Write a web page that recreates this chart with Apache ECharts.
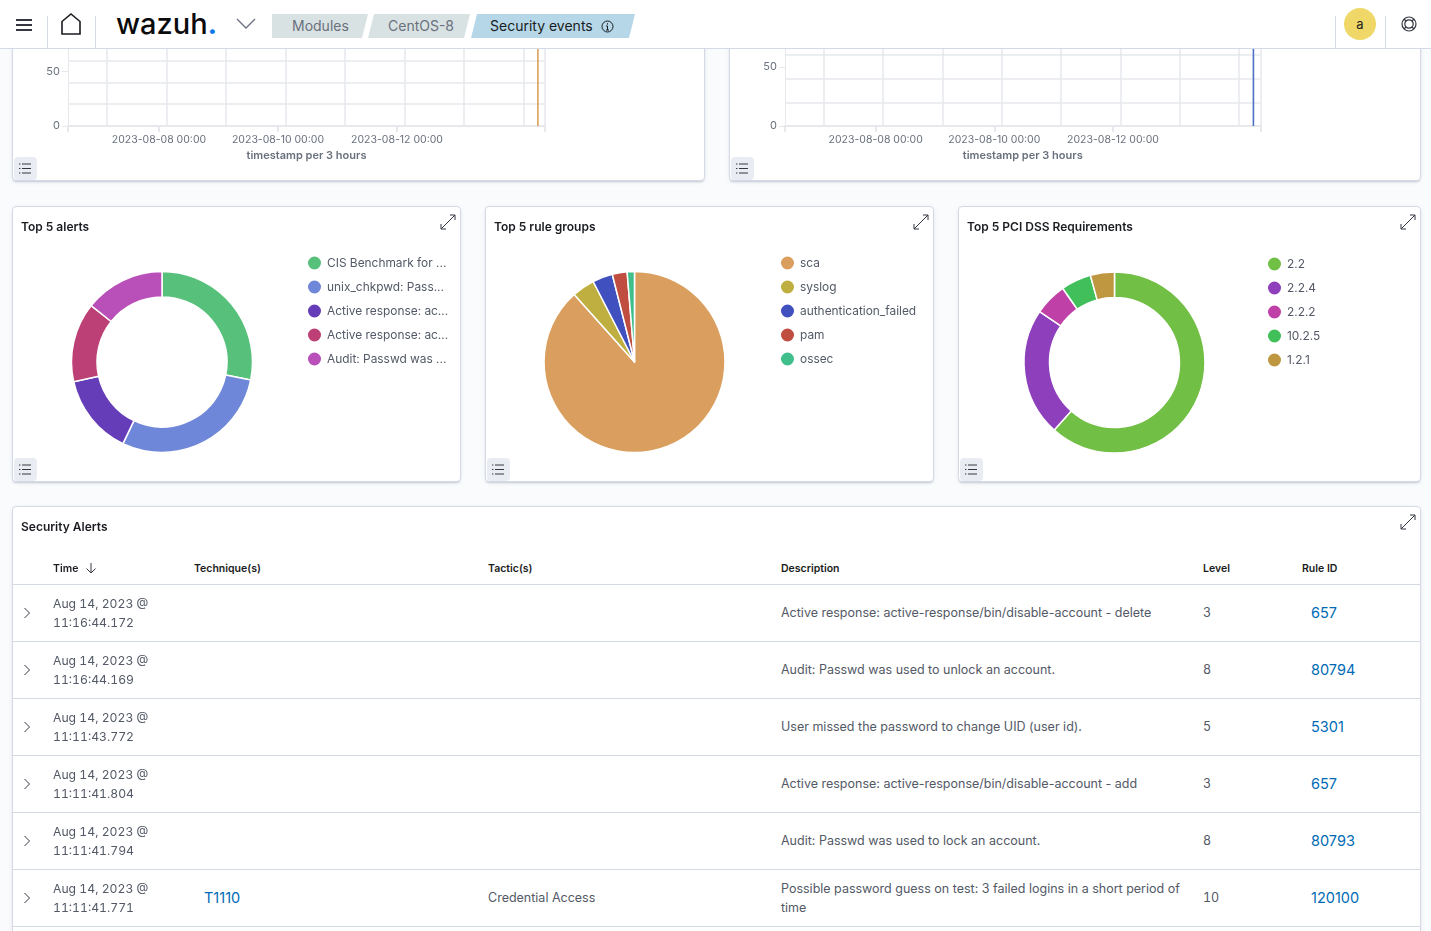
<!DOCTYPE html>
<html>
<head>
<meta charset="utf-8">
<title>Security events</title>
<script src="https://cdn.jsdelivr.net/npm/echarts@6/dist/echarts.min.js"></script>
<style>
html,body{margin:0;padding:0;width:1431px;height:931px;overflow:hidden;background:#fafbfd;font-family:Inter,sans-serif;color:#343741}
div{box-sizing:border-box}
.abs,.panel,.chart,.t{position:absolute}
.panel{background:#fff;border:1px solid #d3dae6;border-radius:4px;box-shadow:0 2px 2px -1px rgba(152,162,179,.45),0 1px 5px -2px rgba(152,162,179,.45)}
.chart{left:0;top:0}
.title{position:absolute;font-size:12px;font-weight:600;color:#1a1c21;white-space:nowrap}
.btn{position:absolute;width:23px;height:23px;background:#e9edf3;border-radius:4px}
.header{position:absolute;left:0;top:0;width:1431px;height:49px;background:#fff;border-bottom:1px solid #d3dae6;z-index:10}
.vline{position:absolute;top:16px;width:1px;height:32px;background:#d3dae6}
.crumb{position:absolute;top:14px;height:24px;line-height:23px;font-size:14px;white-space:nowrap}
.t{white-space:nowrap;font-size:12.5px;color:#535966}
.num{font-variant-numeric:tabular-nums}
.th{position:absolute;top:562px;font-size:10.5px;font-weight:600;color:#1a1c21;white-space:nowrap}
.rowline{position:absolute;left:13px;width:1407px;height:1px;background:#d3dae6}
.link{color:#006bb4;font-size:14.5px}
</style>
</head>
<body>

<div class="header">
  <svg class="abs" style="left:16px;top:18px" width="17" height="14"><path d="M0 2h16M0 7h16M0 12h16" stroke="#343741" stroke-width="2"/></svg>
  <div class="vline" style="left:47px"></div>
  <svg class="abs" style="left:60px;top:12px" width="22" height="24"><path d="M2 22V9.5L11 2l9 7.5V22z" fill="none" stroke="#1a1c21" stroke-width="1.6"/></svg>
  <div class="vline" style="left:95px"></div>
  <div class="abs" style="left:116px;top:6px;font-size:29px;line-height:36px;font-weight:500;color:#0b0b0d;white-space:nowrap">wazuh<span style="color:#0a79f0;font-weight:700">.</span></div>
  <svg class="abs" style="left:236px;top:18px" width="20" height="12"><path d="M1 1l9 9 9-9" fill="none" stroke="#69707d" stroke-width="1.3"/></svg>
  <div class="crumb" style="left:272px;width:96px;background:#d9e2e3;color:#69707d;padding-left:20px;clip-path:polygon(0 0,100% 0,calc(100% - 6px) 100%,0 100%)">Modules</div>
  <div class="crumb" style="left:368px;width:102px;background:#d9e2e3;color:#69707d;padding-left:20px;clip-path:polygon(6px 0,100% 0,calc(100% - 6px) 100%,0 100%)">CentOS-8</div>
  <div class="crumb" style="left:471px;width:164px;background:#b6d7e8;color:#1a1c21;padding-left:19px;clip-path:polygon(6px 0,100% 0,calc(100% - 6px) 100%,0 100%)">Security events
    <svg style="position:absolute;left:130px;top:6px" width="13" height="13"><circle cx="6.5" cy="6.5" r="5.5" fill="none" stroke="#1a1c21"/><path d="M6.5 6v4M6.5 3.2v1.4M5 6h1.5M5 10h3" stroke="#1a1c21" fill="none"/></svg>
  </div>
  <div class="vline" style="left:1335px"></div>
  <div class="abs" style="left:1344px;top:8px;width:32px;height:32px;border-radius:50%;background:#f0d868;text-align:center;line-height:33px;font-size:13px;color:#1a1c21">a</div>
  <div class="vline" style="left:1385px"></div>
  <svg class="abs" style="left:1401px;top:16px" width="16" height="16"><circle cx="8" cy="8" r="7" fill="none" stroke="#343741" stroke-width="1.2"/><circle cx="8" cy="8" r="4.2" fill="none" stroke="#343741" stroke-width="1.2"/><path d="M3 3l2 2M13 3l-2 2M3 13l2-2M13 13l-2-2" stroke="#343741" stroke-width="1.2"/></svg>
</div>

<div id="rootPanels"></div>
<div id="tableArea"></div>

<script>
// top histograms (only the bottom of them is visible, the page is scrolled)
var histTimes = ['2023-08-14T08:50:00Z'];
var histCountsLeft = [100];
var histCountsRight = [100];
var histGridTimes = ['2023-08-07T03:00:00Z', '2023-08-08T03:00:00Z', '2023-08-09T03:00:00Z', '2023-08-10T03:00:00Z', '2023-08-11T03:00:00Z', '2023-08-12T03:00:00Z', '2023-08-13T03:00:00Z', '2023-08-14T03:00:00Z'];
var histGridCounts = [20, 40, 60, 80, 100];
var histTickTimes = ['2023-08-08T00:00:00Z', '2023-08-10T00:00:00Z', '2023-08-12T00:00:00Z'];

// pies
var alertNames = [
    'CIS Benchmark for CentOS Linux 8',
    'unix_chkpwd: Password check failed.',
    'Active response: active-response/bin/disable-account - delete',
    'Active response: active-response/bin/disable-account - add',
    'Audit: Passwd was used to unlock an account.'
];
var alertLabels = ['CIS Benchmark for ...', 'unix_chkpwd: Pass...', 'Active response: ac...', 'Active response: ac...', 'Audit: Passwd was ...'];
var alertValues = [28.2, 28.9, 14.4, 14.2, 14.3];
var alertColors = ['#57c17b', '#6f87d8', '#663db8', '#bc3f75', '#b94fb9'];

var groupNames = ['sca', 'syslog', 'authentication_failed', 'pam', 'ossec'];
var groupValues = [88.4, 4.05, 3.6, 2.65, 1.3];
var groupColors = ['#da9f5e', '#bfaf40', '#4050bf', '#bf4d40', '#40bf8c'];

var pciNames = ['2.2', '2.2.4', '2.2.2', '10.2.5', '1.2.1'];
var pciValues = [61.6, 22.9, 5.8, 5.4, 4.3];
var pciColors = ['#71bf44', '#8d3fbc', '#bf40a6', '#40bf5a', '#bf9740'];

// table
var tableColumns = ['Technique(s)', 'Tactic(s)', 'Description', 'Level', 'Rule ID'];
var rowDates = ['11:16:44.172', '11:16:44.169', '11:11:43.772', '11:11:41.804', '11:11:41.794', '11:11:41.771'];
var rowTechniques = ['', '', '', '', '', 'T1110'];
var rowTactics = ['', '', '', '', '', 'Credential Access'];
var rowDescriptions = [
    'Active response: active-response/bin/disable-account - delete',
    'Audit: Passwd was used to unlock an account.',
    'User missed the password to change UID (user id).',
    'Active response: active-response/bin/disable-account - add',
    'Audit: Passwd was used to lock an account.',
    'Possible password guess on test: 3 failed logins in a short period of<br>time'
];
var rowLevels = [3, 8, 5, 3, 8, 10];
var rowRuleIds = ['657', '80794', '5301', '657', '80793', '120100'];

var rootPanels = document.getElementById('rootPanels');
var tableArea = document.getElementById('tableArea');

function ms(s) {
    return Date.parse(s);
}

function fmtDate(v) {
    var iso = new Date(v).toISOString();
    return iso.slice(0, 10) + ' ' + iso.slice(11, 16);
}

function addPanel(x, y, w, h, title) {
    var p = document.createElement('div');
    p.className = 'panel';
    p.style.cssText = 'left:' + x + 'px;top:' + y + 'px;width:' + w + 'px;height:' + h + 'px';
    var html = '';
    if (title) {
        html += '<div class="title" style="left:8px;top:12px">' + title + '</div>';
        html += '<svg style="position:absolute;right:4px;top:7px" width="16" height="16"><path d="M1 10v5h5M1 15L15 1M10 1h5v5" fill="none" stroke="#343741"/></svg>';
    }
    p.innerHTML = html;
    rootPanels.appendChild(p);
    return p;
}

function addListButton(p, x, y) {
    var b = document.createElement('div');
    b.className = 'btn';
    b.style.left = x + 'px';
    b.style.top = y + 'px';
    b.innerHTML = '<svg style="position:absolute;left:4px;top:5px" width="14" height="13"><path d="M4 2h9M4 6.5h9M4 11h9M1 2h1.4M1 6.5h1.4M1 11h1.4" stroke="#343741"/></svg>';
    p.appendChild(b);
}

function addChart(p, w, h) {
    var d = document.createElement('div');
    d.className = 'chart';
    d.style.width = w + 'px';
    d.style.height = h + 'px';
    p.insertBefore(d, p.firstChild);
    return echarts.init(d);
}

function histogram(x, w, gridLeft, gridWidth, gridBottom, gridTop, minStr, maxStr, counts, color) {
    var p = addPanel(x, -20, w, 201, null);
    var chart = addChart(p, w - 2, 199);
    var ticks = histTickTimes.map(ms);
    var minV = ms(minStr), maxV = ms(maxStr);
    var axisGray = '#e6e8ec';
    chart.setOption({
        animation: false,
        grid: {left: gridLeft, width: gridWidth, top: gridTop, bottom: gridBottom},
        xAxis: {
            type: 'value',
            min: minV,
            max: maxV,
            name: 'timestamp per 3 hours',
            nameLocation: 'middle',
            nameGap: 21,
            nameTextStyle: {fontFamily: 'Inter', fontSize: 11, fontWeight: 600, color: '#69707d'},
            axisLine: {show: true, lineStyle: {color: axisGray, width: 2}},
            axisTick: {show: true, length: 6, lineStyle: {color: axisGray, width: 2}, customValues: [minV].concat(ticks, [maxV])},
            axisLabel: {fontFamily: 'Inter', fontSize: 10.5, color: '#69707d', margin: 8, customValues: ticks, formatter: fmtDate, hideOverlap: false},
            splitLine: {show: false}
        },
        yAxis: {
            type: 'value',
            min: 0,
            max: 100,
            interval: 50,
            axisLine: {show: true, lineStyle: {color: axisGray, width: 1}},
            axisTick: {show: true, length: 6, lineStyle: {color: axisGray}},
            axisLabel: {fontFamily: 'Inter', fontSize: 11, color: '#69707d', margin: 8},
            splitLine: {show: false}
        },
        series: [{
            type: 'bar',
            barWidth: 1.6,
            itemStyle: {color: color},
            data: histTimes.map(function (t, i) { return [ms(t), counts[i]]; }),
            z: 3,
            markLine: {
                silent: true,
                symbol: 'none',
                z: 1,
                label: {show: false},
                animation: false,
                lineStyle: {color: axisGray, width: 1.5, type: 'solid'},
                data: histGridTimes.map(function (t) { return {xAxis: ms(t)}; })
                    .concat(histGridCounts.map(function (c) { return {yAxis: c}; }))
                    .concat([{xAxis: maxV}])
            }
        }]
    });
    addListButton(p, 1, 176);
}

histogram(12, 693, 55, 477, 54, 36, '2023-08-06T11:18:00Z', '2023-08-14T11:42:00Z', histCountsLeft, '#dba05b');
histogram(729, 692, 55, 475.5, 54, 27, '2023-08-06T11:18:00Z', '2023-08-14T11:42:00Z', histCountsRight, '#4c6fc9');

function piePanel(x, w, title, names, labels, values, colors, cx, cy, inner, legendX, legendY) {
    var p = addPanel(x, 206, w, 276, title);
    var chart = addChart(p, w - 2, 274);
    chart.setOption({
        animation: false,
        color: colors,
        legend: {
            orient: 'vertical',
            left: legendX,
            top: legendY,
            padding: 0,
            icon: 'circle',
            itemWidth: 15,
            itemHeight: 15,
            itemGap: 7,
            selectedMode: false,
            textStyle: {fontFamily: 'Inter', fontSize: 11.9, color: '#535966'},
            formatter: function (name) { return labels[names.indexOf(name)]; },
            data: names
        },
        series: [{
            type: 'pie',
            center: [cx, cy],
            radius: [inner, 90.5],
            startAngle: 90,
            label: {show: false},
            labelLine: {show: false},
            silent: true,
            itemStyle: {borderColor: '#fff', borderWidth: 1.5},
            data: names.map(function (n, i) { return {name: n, value: values[i]}; })
        }]
    });
    addListButton(p, 1, 251);
}

piePanel(12, 449, 'Top 5 alerts', alertNames, alertLabels, alertValues, alertColors, 149, 155, 65, 293, 47.5);
piePanel(485, 449, 'Top 5 rule groups', groupNames, groupNames, groupValues, groupColors, 148.5, 155, 0, 293, 47.5);
piePanel(958, 463, 'Top 5 PCI DSS Requirements', pciNames, pciNames, pciValues, pciColors, 155.5, 155.5, 65, 307, 48.5);

// security alerts table
var tablePanel = addPanel(12, 506, 1409, 450, 'Security Alerts');
var html = '';
var colX = [194, 488, 781, 1203, 1302];
html += '<div class="th" style="left:53px">Time</div>';
html += '<svg style="position:absolute;left:85px;top:562px" width="12" height="12"><path d="M6 1v10M1.5 6.5L6 11l4.5-4.5" fill="none" stroke="#343741"/></svg>';
tableColumns.forEach(function (c, i) {
    html += '<div class="th" style="left:' + colX[i] + 'px">' + c + '</div>';
});
rowDates.forEach(function (d, i) {
    var top = 585 + i * 57;
    html += '<div class="rowline" style="top:' + (top - 1) + 'px"></div>';
    html += '<svg style="position:absolute;left:23px;top:' + (top + 22) + 'px" width="8" height="12"><path d="M1.5 1L6.5 6l-5 5" fill="none" stroke="#343741"/></svg>';
    html += '<div class="t num" style="left:53px;top:' + (top + 10) + 'px;line-height:18.5px;font-size:12.2px">Aug 14, 2023 @<br>' + d + '</div>';
    if (rowTechniques[i]) {
        html += '<div class="t link" style="left:204px;top:' + top + 'px;line-height:56px">' + rowTechniques[i] + '</div>';
    }
    if (rowTactics[i]) {
        html += '<div class="t" style="left:488px;top:' + top + 'px;line-height:56px">' + rowTactics[i] + '</div>';
    }
    if (rowDescriptions[i].indexOf('<br>') > 0) {
        html += '<div class="t" style="left:781px;top:' + (top + 10) + 'px;line-height:18.5px">' + rowDescriptions[i] + '</div>';
    } else {
        html += '<div class="t" style="left:781px;top:' + top + 'px;line-height:56px">' + rowDescriptions[i] + '</div>';
    }
    html += '<div class="t num" style="left:1203px;top:' + top + 'px;line-height:56px">' + rowLevels[i] + '</div>';
    html += '<div class="t link" style="left:1311px;top:' + top + 'px;line-height:56px">' + rowRuleIds[i] + '</div>';
});
html += '<div class="rowline" style="top:926px"></div>';
tableArea.innerHTML = html;
</script>
</body>
</html>
